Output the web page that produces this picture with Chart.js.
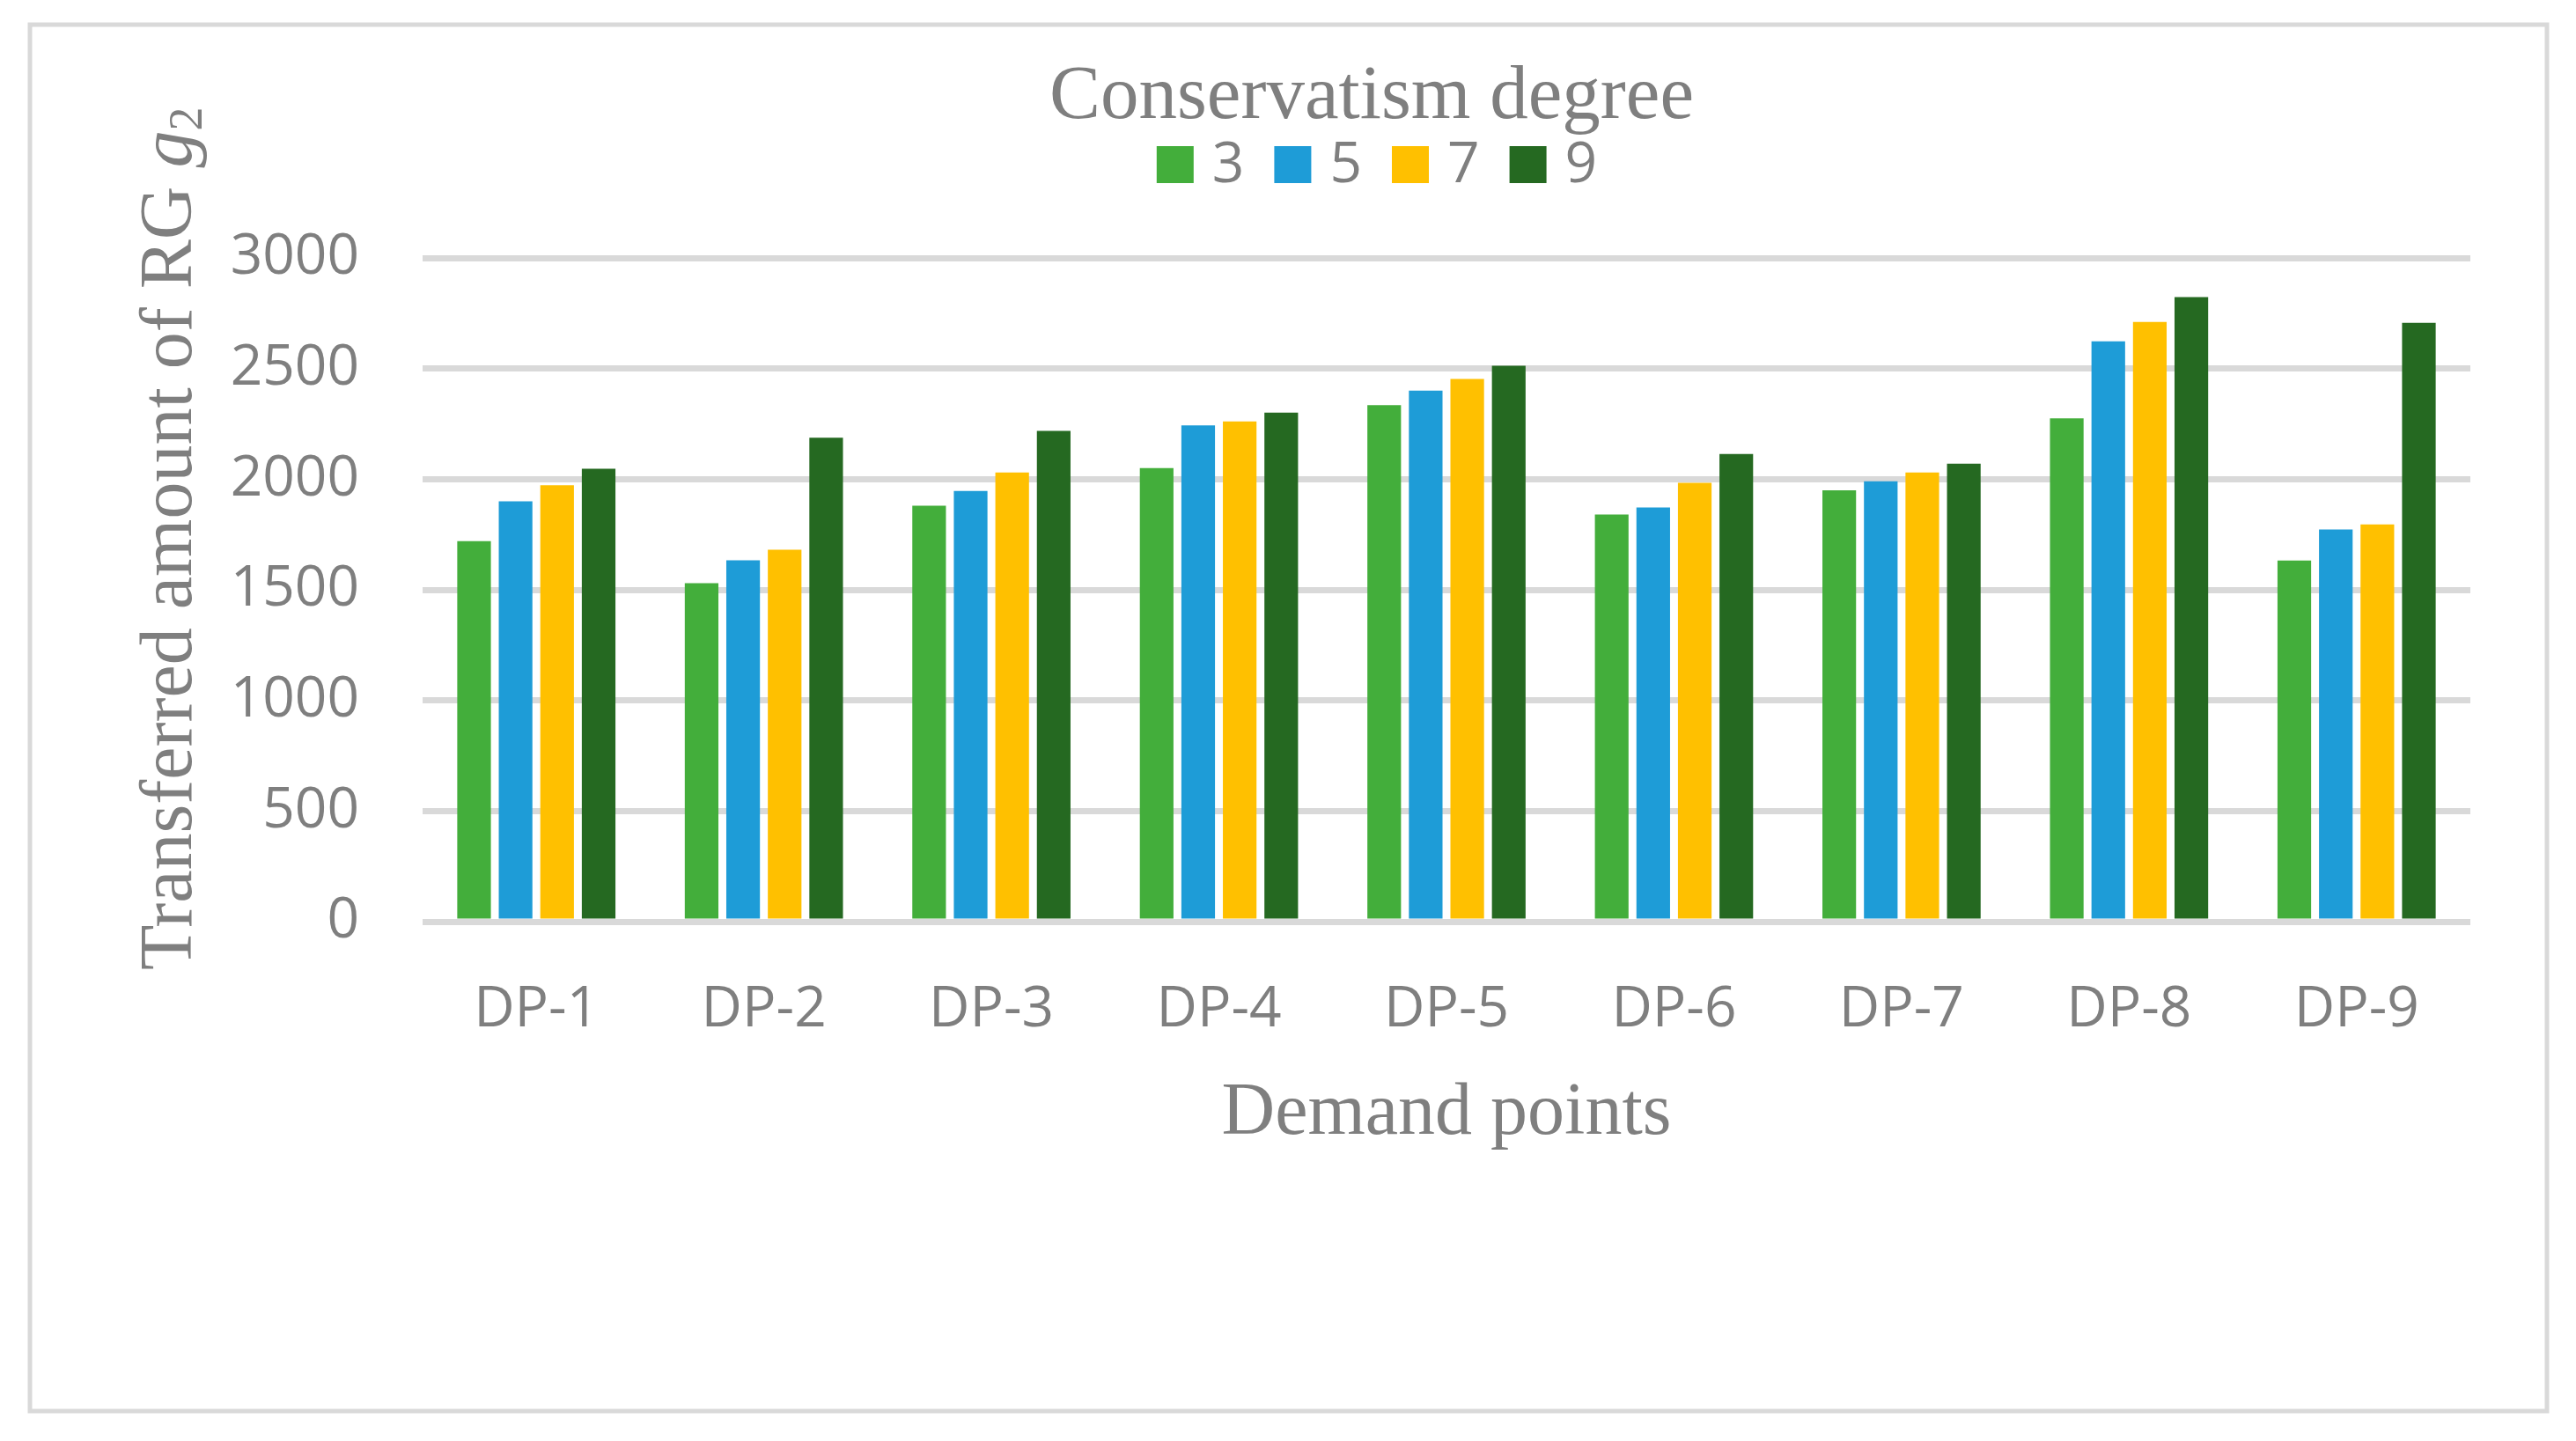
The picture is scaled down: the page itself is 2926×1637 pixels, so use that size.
<!DOCTYPE html>
<html>
<head>
<meta charset="utf-8">
<script src="https://cdn.jsdelivr.net/npm/chart.js@4.4.1/dist/chart.umd.min.js"></script>
<style>
  html, body { margin: 0; padding: 0; background: #ffffff; }
  #wrap { width: 2926px; height: 1637px; }
</style>
</head>
<body>
<div id="wrap"><canvas id="c" width="2926" height="1637"></canvas></div>
<script>
// ---- Data ----
const categories = ['DP-1', 'DP-2', 'DP-3', 'DP-4', 'DP-5', 'DP-6', 'DP-7', 'DP-8', 'DP-9'];
const seriesLabels = ['3', '5', '7', '9'];
const degree3 = [1720, 1530, 1880, 2050, 2335, 1840, 1950, 2275, 1632];
const degree5 = [1900, 1633, 1947, 2243, 2400, 1872, 1990, 2623, 1773];
const degree7 = [1972, 1681, 2030, 2261, 2453, 1983, 2030, 2711, 1795];
const degree9 = [2047, 2187, 2218, 2301, 2513, 2114, 2070, 2823, 2707];
const yTicks = [0, 500, 1000, 1500, 2000, 2500, 3000];

const chartTitle = 'Conservatism degree';
const xTitle = 'Demand points';
const yTitleMain = 'Transferred amount of RG ';
const yTitleVar = 'g';
const yTitleSub = '2';

const colors = ['#43ae3b', '#1e9cd7', '#ffc000', '#256921'];
const textGray = '#7f7f7f';
const gridGray = '#d9d9d9';
const serif = '"Liberation Serif", "Times New Roman", serif';
const sans = '"Open Sans", "Noto Sans", sans-serif';

const seriesValues = [degree3, degree5, degree7, degree9];

const decorPlugin = {
  id: 'decor',
  beforeDraw(chart) {
    const ctx = chart.ctx;
    ctx.save();
    ctx.fillStyle = '#ffffff';
    ctx.fillRect(0, 0, chart.width, chart.height);
    ctx.strokeStyle = gridGray;
    ctx.lineWidth = 5;
    ctx.strokeRect(34, 28, 2859, 1575);
    ctx.restore();
  },
  afterDraw(chart) {
    const ctx = chart.ctx;
    const area = chart.chartArea;
    ctx.save();
    ctx.fillStyle = textGray;

    // Title
    ctx.font = '87px ' + serif;
    ctx.textAlign = 'center';
    ctx.textBaseline = 'alphabetic';
    ctx.fillText(chartTitle, 1558, 134);

    // Legend
    ctx.font = '64px ' + sans;
    ctx.textBaseline = 'middle';
    ctx.textAlign = 'left';
    const box = 42, gapText = 21, gapItem = 34;
    const items = chart.data.datasets.map(ds => ({
      label: ds.label, color: ds.backgroundColor, w: ctx.measureText(ds.label).width
    }));
    let total = 0;
    items.forEach((it, i) => { total += box + gapText + it.w + (i < items.length - 1 ? gapItem : 0); });
    let x = 1564 - total / 2;
    items.forEach(it => {
      ctx.fillStyle = it.color;
      ctx.fillRect(x, 166, box, box);
      ctx.fillStyle = textGray;
      ctx.fillText(it.label, x + box + gapText, 189);
      x += box + gapText + it.w + gapItem;
    });

    // X axis title
    ctx.font = '84px ' + serif;
    ctx.textAlign = 'center';
    ctx.textBaseline = 'alphabetic';
    ctx.fillText(xTitle, (area.left + area.right) / 2, 1288);

    // Y axis title (rotated)
    ctx.translate(217, 1102);
    ctx.rotate(-Math.PI / 2);
    ctx.textAlign = 'left';
    ctx.font = '84px ' + serif;
    let px = 0;
    ctx.fillText(yTitleMain, px, 0);
    px += ctx.measureText(yTitleMain).width;
    ctx.font = 'italic 84px ' + serif;
    ctx.fillText(yTitleVar, px, 0);
    px += ctx.measureText(yTitleVar).width;
    ctx.font = '54px ' + serif;
    ctx.fillText(yTitleSub, px, 12);
    ctx.restore();
  }
};

new Chart(document.getElementById('c'), {
  type: 'bar',
  data: {
    labels: categories,
    datasets: seriesLabels.map((lab, i) => ({
      label: lab,
      data: seriesValues[i],
      backgroundColor: colors[i],
      borderWidth: 0,
      categoryPercentage: 0.73,
      barPercentage: 0.81
    }))
  },
  options: {
    responsive: false,
    animation: false,
    devicePixelRatio: 1,
    layout: { padding: { left: 0, right: 120, top: 293, bottom: 0 } },
    plugins: {
      legend: { display: false },
      title: { display: false },
      tooltip: { enabled: false }
    },
    scales: {
      x: {
        grid: { display: false, drawTicks: false },
        border: { display: false },
        ticks: { color: textGray, font: { family: sans, size: 64 }, padding: 62, maxRotation: 0 },
        afterFit(scale) { scale.height = 590; }
      },
      y: {
        min: 0,
        max: 3000,
        afterBuildTicks(scale) { scale.ticks = yTicks.map(v => ({ value: v })); },
        grid: { color: gridGray, lineWidth: 7, drawTicks: false },
        border: { display: false },
        ticks: {
          color: textGray, font: { family: sans, size: 64 }, padding: 72,
          callback: (v) => String(v)
        },
        afterFit(scale) { scale.width = 480; }
      }
    }
  },
  plugins: [decorPlugin]
});
</script>
</body>
</html>
